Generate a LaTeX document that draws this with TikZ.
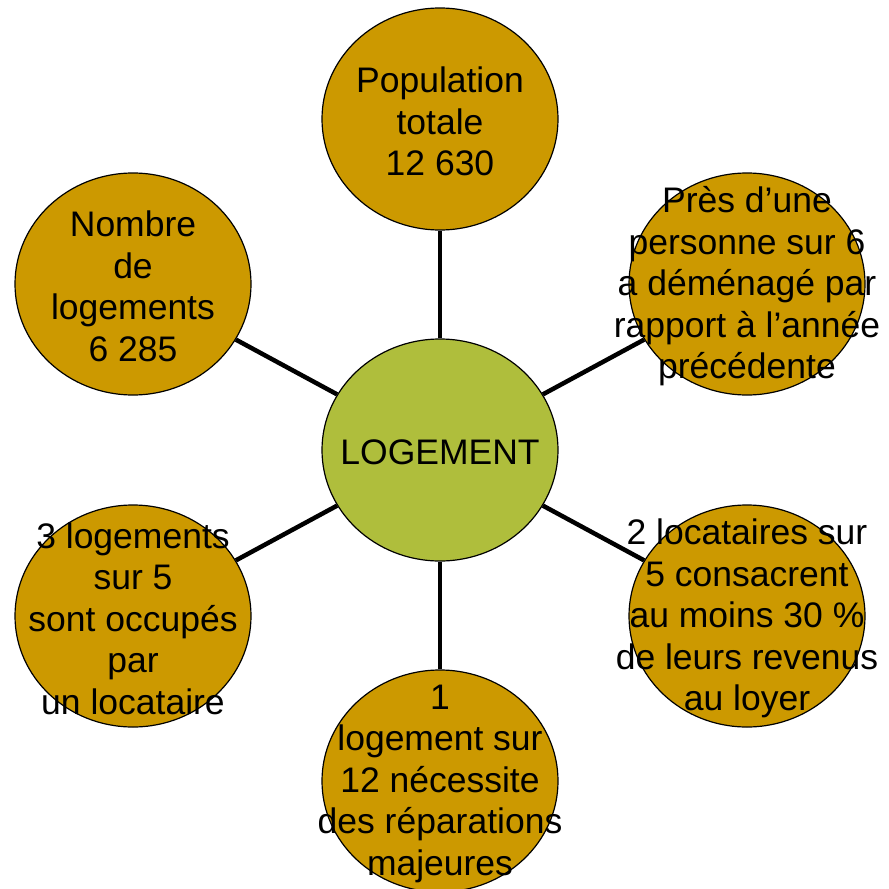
\documentclass[tikz,border=0pt]{standalone}
\usepackage{fontspec}
\setmainfont{Liberation Sans}
\usepackage{xcolor}
\usetikzlibrary{shapes.geometric}
\definecolor{gold}{RGB}{204,153,0}
\definecolor{olive}{RGB}{175,190,60}

\begin{document}
\begin{tikzpicture}[x=1pt,y=-1pt,
    bubble/.style={draw,ellipse,line width=1.2pt,fill=gold,minimum width=236pt,minimum height=222pt,inner sep=0pt},
    txt/.style={align=center,inner sep=0pt,yshift=-2.5pt,font=\fontsize{35.5}{41.5}\selectfont},
    spoke/.style={line width=4.5pt}]
    \useasboundingbox (0,0) rectangle (889,889);
    \node[bubble,fill=olive] (c) at (440,450) {};
    \node[bubble] (1) at (440,119) {};
    \node[bubble] (2) at (747,284) {};
    \node[bubble] (3) at (747,616) {};
    \node[bubble] (4) at (440,781) {};
    \node[bubble] (5) at (133,616) {};
    \node[bubble] (6) at (133,284) {};
    \draw[spoke] (c) to (1);
    \draw[spoke] (c) to (2);
    \draw[spoke] (c) to (3);
    \draw[spoke] (c) to (4);
    \draw[spoke] (c) to (5);
    \draw[spoke] (c) to (6);
    \node[txt] (tc) at (c) {LOGEMENT};
    \node[txt] (t1) at (1) {Population\\totale\\12 630};
    \node[txt] (t2) at (2) {Près d’une\\personne sur 6\\a déménagé par\\rapport à l’année\\précédente};
    \node[txt] (t3) at (3) {2 locataires sur\\5 consacrent\\au moins 30 \%\\de leurs revenus\\au loyer};
    \node[txt] (t4) at (4) {1\\logement sur\\12 nécessite\\des réparations\\majeures};
    \node[txt] (t5) at (5) {3 logements\\sur 5\\sont occupés\\par\\un locataire};
    \node[txt] (t6) at (6) {Nombre\\de\\logements\\6 285};
\end{tikzpicture}
\end{document}
